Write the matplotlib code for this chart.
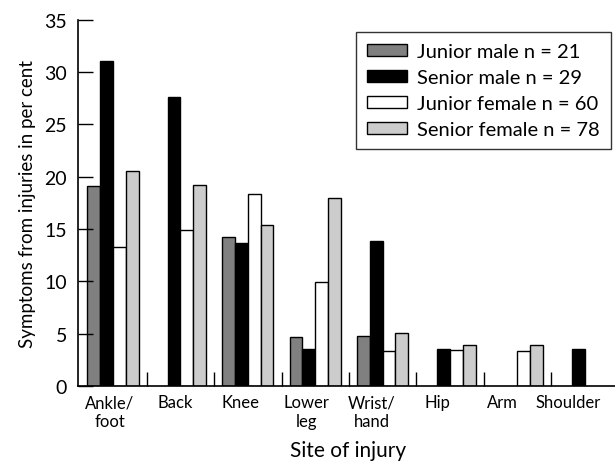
import matplotlib
matplotlib.use("Agg")
import matplotlib.pyplot as plt
import numpy as np

categories = ["Ankle/\nfoot", "Back", "Knee", "Lower\nleg", "Wrist/\nhand", "Hip", "Arm", "Shoulder"]
series_names = ["Junior male n = 21", "Senior male n = 29", "Junior female n = 60", "Senior female n = 78"]
junior_male = [19.1, 0, 14.2, 4.7, 4.8, 0, 0, 0]
senior_male = [31.0, 27.6, 13.7, 3.5, 13.8, 3.5, 0, 3.5]
junior_female = [13.3, 14.9, 18.3, 9.9, 3.3, 3.4, 3.3, 0]
senior_female = [20.5, 19.2, 15.4, 18.0, 5.1, 3.9, 3.9, 0]
colors = ["#808080", "#000000", "#ffffff", "#cccccc"]

plt.rcParams['font.family'] = ['Lato', 'DejaVu Sans']

fig = plt.figure(figsize=(6.15, 4.64), dpi=100)
ax = fig.add_axes([78/615, 77/464, 540.5/615, 366.5/464])

x = np.arange(len(categories))
w = 0.19
data = [junior_male, senior_male, junior_female, senior_female]
for i, (vals, c, name) in enumerate(zip(data, colors, series_names)):
    v = np.array(vals, dtype=float)
    mask = v > 0
    ax.bar(x[mask] + (i - 1.5) * w, v[mask], width=w, color=c, edgecolor="black",
           linewidth=1.0, label=name)

ax.set_xlim(-0.52, 7.5)
ax.set_ylim(0, 35)
ax.set_yticks(range(0, 36, 5))
# label anchor positions (slightly compressed spacing as in the reference)
label_pos = [(110 + 65.4 * i - 79.3) / 67.4 - 0.5 for i in range(len(categories))]
ax.set_xticks(label_pos)
ax.set_xticklabels(categories, fontsize=12, linespacing=1.2)
ax.tick_params(axis='x', length=0, pad=6)
ax.set_xticks(np.arange(0.5, 7, 1), minor=True)
ax.tick_params(axis='x', which='minor', direction='in', length=10, width=1)
ax.tick_params(axis='y', direction='in', length=11, width=1, labelsize=14, pad=8)

for s in ['top', 'right']:
    ax.spines[s].set_visible(False)
for s in ['left', 'bottom']:
    ax.spines[s].set_linewidth(1.2)

ax.set_ylabel("Symptoms from injuries in per cent", fontsize=13.5, labelpad=6)
ax.set_xlabel("Site of injury", fontsize=15, labelpad=8)

leg = ax.legend(loc='upper left', bbox_to_anchor=((356-78)/540.5, (387-32.7)/366.5),
                fontsize=14.5, frameon=True, fancybox=False, edgecolor='black',
                handlelength=2.0, handleheight=0.55, handletextpad=0.5,
                labelspacing=0.45, borderpad=0.55, borderaxespad=0)
leg.get_frame().set_linewidth(1.0)

fig.savefig("out.png", dpi=100)
